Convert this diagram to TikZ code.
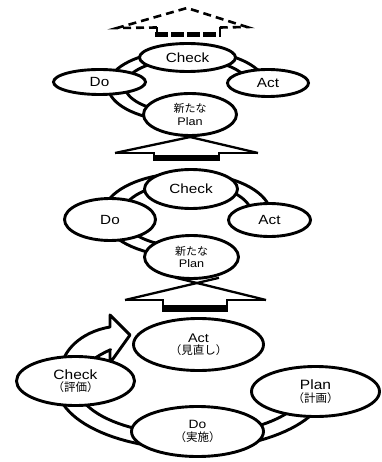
\documentclass[tikz,border=0pt]{standalone}
\usepackage{fontspec}
\newfontfamily\latf[FakeStretch=1.15]{Liberation Sans}
\newfontfamily\jpf{Noto Sans CJK JP}
\usetikzlibrary{shapes.geometric}
\newcommand{\txtL}[2]{{\latf\fontsize{#1}{12}\selectfont #2}}
\newcommand{\txtJ}[2]{{\jpf\fontsize{#1}{12}\selectfont #2}}
\begin{document}
\begin{tikzpicture}[x=1pt,y=-1pt,
  ell/.style={ellipse, draw, line width=2.9pt, fill=white, inner sep=0pt, align=center,
              font=\fontsize{11}{12.5}\selectfont},
  band/.style={draw, line width=2.9pt, fill=white, line join=round},
  blk/.style={draw, line width=2.3pt, line join=miter},
  dsh/.style={draw, line width=2.6pt, dash pattern=on 8pt off 5pt}]
\useasboundingbox (0,0) rectangle (381,462);

% ---- top dashed arrow ----
\draw[dsh] (157,27.5) -- (117,28) -- (187,8) -- (247,27) -- (220,27.5);
\draw[line width=2.3pt] (157,27.5) -- (157,33) (220,27.5) -- (220,33);
\draw[line width=5.5pt, dash pattern=on 13pt off 3pt] (155,34.5) -- (221,34.5);

% ---- top cycle ----
\draw[band] plot[domain=90:360,samples=60] ({187+79*cos(\x)},{86+36*sin(\x)})
  -- plot[domain=360:90,samples=60] ({187+62*cos(\x)},{86+27*sin(\x)}) -- cycle;

% ---- arrow middle -> top ----
\draw[blk] (115,153) -- (210,132.8);
\draw[blk] (258,153) -- (170,132.3);
\draw[blk] (115,153) -- (154,153) -- (154,157);
\draw[blk] (258,153) -- (219,153) -- (219,157);
\fill (152.8,155) rectangle (220.2,161.5);

\node[ell, minimum width=96pt, minimum height=28pt] (tCheck) at (187.5,57.5) {\txtL{13.3}{Check}};
\node[ell, minimum width=92pt, minimum height=25pt] (tDo) at (99.5,82) {\txtL{13.3}{Do}};
\node[ell, minimum width=81pt, minimum height=27pt] (tAct) at (268,83) {\txtL{13.3}{Act}};
\node[ell, minimum width=93pt, minimum height=42pt] (tPlan) at (190,114.5) {\txtJ{11}{新たな}\\\txtL{11}{Plan}};

% ---- middle cycle ----
\draw[band] plot[domain=90:360,samples=60] ({187+84*cos(\x)},{215+42*sin(\x)})
  -- plot[domain=360:90,samples=60] ({187+65*cos(\x)},{215+32*sin(\x)}) -- cycle;

% ---- arrow bottom -> middle ----
\draw[blk] (125,300) -- (219,277.8);
\draw[blk] (266,300) -- (175,277.6);
\draw[blk] (125,300) -- (163,300) -- (163,305);
\draw[blk] (266,300) -- (227,300) -- (227,305);
\fill (161.8,304.5) rectangle (228.2,312);

\node[ell, minimum width=93pt, minimum height=39pt] (mCheck) at (191,189) {\txtL{13.3}{Check}};
\node[ell, minimum width=91pt, minimum height=42pt] (mDo) at (110,219.5) {\txtL{13.3}{Do}};
\node[ell, minimum width=82pt, minimum height=33pt] (mAct) at (269.5,220) {\txtL{13.3}{Act}};
\node[ell, minimum width=94pt, minimum height=43pt] (mPlan) at (191.5,257) {\txtJ{11}{新たな}\\\txtL{11}{Plan}};

% ---- bottom cycle with arrow ----
\draw[band] plot[domain=0:195,samples=60] ({192+135*cos(\x)},{385+64*sin(\x)})
  .. controls (62,352) and (80,332) .. (110,327)
  -- (110,315) -- (130,335) -- (110,363) -- (110,350)
  -- plot[domain=225:0,samples=60] ({192+115*cos(\x)},{385+50*sin(\x)}) -- cycle;

\node[ell, minimum width=130pt, minimum height=52pt] (bAct) at (198.5,344.5) {\txtL{12.5}{Act}\\\txtJ{11.5}{（見直し）}};
\node[ell, minimum width=118pt, minimum height=49pt] (bCheck) at (75.5,381) {\txtL{13.5}{Check}\\\txtJ{11.5}{（評価）}};
\node[ell, minimum width=128pt, minimum height=50pt] (bPlan) at (315.5,391.5) {\txtL{13.5}{Plan}\\\txtJ{11.5}{（計画）}};
\node[ell, minimum width=132pt, minimum height=50pt] (bDo) at (197.5,431.5) {\txtL{12}{Do}\\\txtJ{11.5}{（実施）}};
\end{tikzpicture}
\end{document}
